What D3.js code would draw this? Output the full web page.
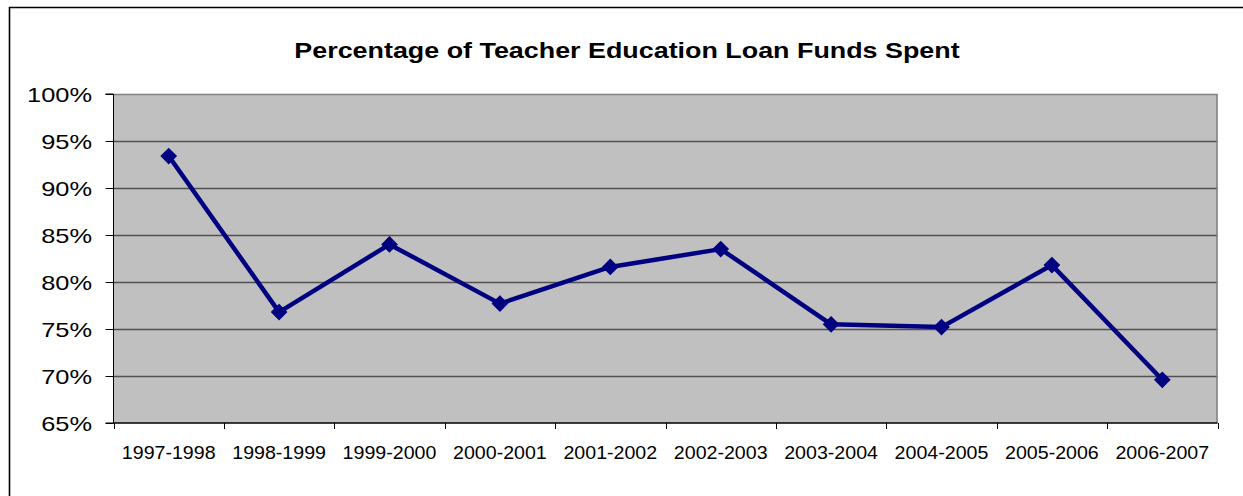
<!DOCTYPE html>
<html>
<head>
<meta charset="utf-8">
<script src="https://cdn.jsdelivr.net/npm/d3@7"></script>
<style>
  body { margin: 0; background: #fff; }
  text { font-family: Arial, "Liberation Sans", sans-serif; fill: #000; }
</style>
</head>
<body>
<div id="viz"></div>
<script>
// chart data
const YEARS = ["1997-1998", "1998-1999", "1999-2000", "2000-2001", "2001-2002",
               "2002-2003", "2003-2004", "2004-2005", "2005-2006", "2006-2007"];
const PCT_SPENT = [93.4, 76.8, 84.0, 77.7, 81.6, 83.5, 75.5, 75.2, 81.8, 69.6];
const Y_TICKS = [65, 70, 75, 80, 85, 90, 95, 100];
const TITLE = "Percentage of Teacher Education Loan Funds Spent";

const F_WIDTH = 1243;
const F_HEIGHT = 496;
const PLOT = {left: 113.5, right: 1217.5, top: 94, bottom: 423};

const FRAME = d3.select("#viz")
  .append("svg")
    .attr("width", F_WIDTH)
    .attr("height", F_HEIGHT);

// outer chart border
FRAME.append("path")
  .attr("d", "M9.5,500 V7.5 H1250")
  .attr("fill", "none")
  .attr("stroke", "#000")
  .attr("stroke-width", 1.6);

// title (the reference is stretched horizontally)
FRAME.append("text")
  .attr("transform", "translate(627,58) scale(1.25,1)")
  .attr("text-anchor", "middle")
  .style("font-weight", "bold")
  .style("font-size", "21.5px")
  .text(TITLE);

const X_SCALE = d3.scaleBand()
  .domain(YEARS)
  .range([PLOT.left, PLOT.right]);

const Y_SCALE = d3.scaleLinear()
  .domain([65, 100])
  .range([PLOT.bottom, PLOT.top]);

// plot background
FRAME.append("rect")
  .attr("x", PLOT.left)
  .attr("y", PLOT.top)
  .attr("width", PLOT.right - PLOT.left)
  .attr("height", PLOT.bottom - PLOT.top)
  .attr("fill", "#c0c0c0");

// gridlines
FRAME.selectAll(".grid")
  .data(Y_TICKS.filter(d => d > 65 && d < 100))
  .enter()
  .append("line")
    .attr("x1", PLOT.left)
    .attr("x2", PLOT.right)
    .attr("y1", d => Math.round(Y_SCALE(d)) + 0.5)
    .attr("y2", d => Math.round(Y_SCALE(d)) + 0.5)
    .attr("stroke", "#505050")
    .attr("stroke-width", 1.3);

// top and right plot edges
FRAME.append("path")
  .attr("d", `M${PLOT.left},${PLOT.top + 0.5} H${PLOT.right - 0.5} V${PLOT.bottom}`)
  .attr("fill", "none")
  .attr("stroke", "#808080")
  .attr("stroke-width", 1.5);

// y axis
const yAxis = FRAME.append("g")
  .attr("transform", "translate(" + PLOT.left + ",0)")
  .call(d3.axisLeft(Y_SCALE).tickValues(Y_TICKS).tickSize(8)
          .tickFormat(d => d + "%"));
yAxis.selectAll("text")
  .style("font-size", "21px")
  .attr("x", 0)
  .attr("dy", "0.36em")
  .attr("transform", "translate(-21.5,0) scale(1.21,1)");
yAxis.selectAll("line, path").attr("stroke", "#000");
yAxis.select(".domain").attr("d", `M-8,${PLOT.top}H0V${PLOT.bottom}H-8`);

// x axis with ticks between categories
const xAxis = FRAME.append("g")
  .attr("transform", "translate(0," + PLOT.bottom + ")");
xAxis.append("line")
  .attr("x1", PLOT.left)
  .attr("x2", PLOT.right)
  .attr("stroke", "#000")
  .attr("stroke-width", 1.3);
const xEdges = YEARS.map(d => X_SCALE(d)).concat([PLOT.right]);
xAxis.selectAll(".xtick")
  .data(xEdges)
  .enter()
  .append("line")
    .attr("x1", d => Math.round(d) + 0.5)
    .attr("x2", d => Math.round(d) + 0.5)
    .attr("y1", 0)
    .attr("y2", 6)
    .attr("stroke", "#000");
xAxis.selectAll(".xlab")
  .data(YEARS)
  .enter()
  .append("text")
    .attr("transform", d => "translate(" + (X_SCALE(d) + X_SCALE.bandwidth() / 2) + ",36) scale(1.09,1)")
    .attr("text-anchor", "middle")
    .style("font-size", "18px")
    .text(d => d);

// line series
const series = YEARS.map((y, i) => ({year: y, value: PCT_SPENT[i]}));
const LINE = d3.line()
  .x(d => X_SCALE(d.year) + X_SCALE.bandwidth() / 2)
  .y(d => Y_SCALE(d.value));

FRAME.append("path")
  .datum(series)
  .attr("d", LINE)
  .attr("fill", "none")
  .attr("stroke", "#000080")
  .attr("stroke-width", 4.5)
  .attr("stroke-linejoin", "round");

FRAME.selectAll(".marker")
  .data(series)
  .enter()
  .append("path")
    .attr("d", d3.symbol().type(d3.symbolSquare).size(140))
    .attr("transform", d => "translate(" + (X_SCALE(d.year) + X_SCALE.bandwidth() / 2) + ","
                            + Y_SCALE(d.value) + ") rotate(45)")
    .attr("fill", "#000080");
</script>
</body>
</html>
